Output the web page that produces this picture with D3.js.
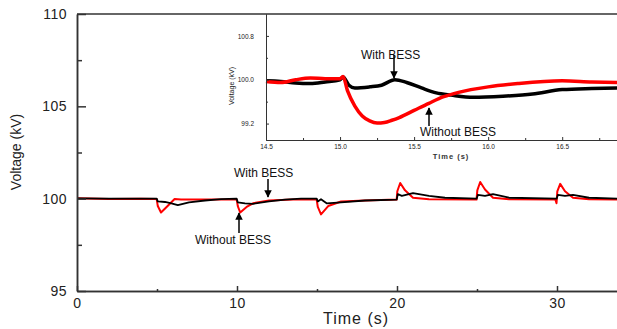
<!DOCTYPE html>
<html>
<head>
<meta charset="UTF-8">
<style>
  body { margin: 0; background: #fff; }
  svg { display: block; font-family: Arial, "Liberation Sans", sans-serif; }
  .axis path, .axis line { stroke: #333; }
  .axis text { fill: #222; }
</style>
</head>
<body>
<svg width="617" height="329"></svg>
<script src="https://cdn.jsdelivr.net/npm/d3@7"></script>
<script>
// main plot: voltage vs time (s)
const withoutT = [0, 2, 4, 4.98, 5.05, 5.25, 5.6, 6.1, 6.5, 8, 9.98, 10.05, 10.2, 10.6, 11.0, 12.0, 13.5, 14.98, 15.05, 15.25, 15.7, 16.5, 18, 19.98, 20.02, 20.2, 20.5, 21.0, 22, 24.97, 25.02, 25.2, 25.5, 26.0, 27, 29.9, 29.97, 30.02, 30.2, 30.5, 31.0, 32, 34];
const withoutV = [100.02, 99.98, 100.0, 99.98, 99.6, 99.25, 99.55, 99.98, 99.95, 99.95, 99.95, 99.6, 99.25, 99.55, 99.75, 99.9, 99.95, 99.95, 99.55, 99.15, 99.6, 99.85, 99.9, 99.95, 100.4, 100.85, 100.45, 100.05, 99.97, 99.95, 100.45, 100.9, 100.5, 100.05, 99.97, 99.95, 99.75, 100.4, 100.8, 100.4, 100.05, 99.97, 99.95];
const withT = [0, 2, 4.98, 5.05, 5.5, 5.9, 6.3, 7, 8, 9, 9.98, 10.05, 10.5, 11, 12, 13, 14, 14.98, 15.05, 15.25, 15.6, 16.5, 18, 19.98, 20.05, 20.3, 21.0, 22, 23, 24.98, 25.05, 25.5, 26, 27, 29.98, 30.05, 30.5, 31, 32, 34];
const withV = [100.02, 100.0, 100.0, 99.85, 99.82, 99.75, 99.65, 99.8, 99.9, 99.98, 100.0, 99.8, 99.75, 99.72, 99.85, 99.95, 100.0, 100.0, 99.85, 99.97, 99.75, 99.8, 99.9, 99.95, 100.25, 100.15, 100.3, 100.15, 100.05, 100.0, 100.2, 100.15, 100.25, 100.05, 100.0, 100.2, 100.15, 100.2, 100.05, 100.0];

// inset: zoom on the 15 s event
const insetWithoutT = [14.5, 14.6, 14.7, 14.8, 14.9, 15.0, 15.02, 15.05, 15.1, 15.15, 15.2, 15.25, 15.3, 15.35, 15.4, 15.5, 15.6, 15.7, 15.8, 16.0, 16.2, 16.5, 16.7, 16.9];
const insetWithoutV = [99.97, 99.95, 100.0, 100.03, 100.02, 100.02, 100.06, 99.8, 99.52, 99.34, 99.25, 99.21, 99.22, 99.26, 99.31, 99.44, 99.57, 99.69, 99.77, 99.87, 99.93, 99.98, 99.96, 99.95];
const insetWithT = [14.5, 14.6, 14.7, 14.8, 14.9, 15.0, 15.02, 15.06, 15.1, 15.2, 15.28, 15.37, 15.45, 15.55, 15.65, 15.75, 15.9, 16.1, 16.3, 16.5, 16.7, 16.9];
const insetWithV = [99.98, 99.97, 99.94, 99.93, 99.96, 100.0, 100.05, 99.9, 99.85, 99.87, 99.9, 100.0, 99.95, 99.85, 99.76, 99.72, 99.68, 99.7, 99.74, 99.82, 99.84, 99.85];

const mainYTicks = [95, 100, 105, 110];
const mainYMinor = [97.5, 102.5, 107.5];
const mainXTicks = [0, 10, 20, 30];
const mainXMinor = [5, 15, 25];
const insetYTicks = [99.2, 100.0, 100.8];
const insetYMinor = [99.6, 100.4];
const insetXTicks = [14.5, 15.0, 15.5, 16.0, 16.5];
const insetXMinor = [14.75, 15.25, 15.75, 16.25, 16.75];

const svg = d3.select("svg");

const x = d3.scaleLinear().domain([0, 33.75]).range([77, 617]);
const y = d3.scaleLinear().domain([95, 110]).range([291, 14]);

const line = (sx, sy) => d3.line().x(d => sx(d[0])).y(d => sy(d[1]));

// main series
svg.append("path")
  .datum(d3.zip(withoutT, withoutV))
  .attr("fill", "none").attr("stroke", "#f00").attr("stroke-width", 2)
  .attr("stroke-linejoin", "round")
  .attr("d", line(x, y));
svg.append("path")
  .datum(d3.zip(withT, withV))
  .attr("fill", "none").attr("stroke", "#000").attr("stroke-width", 1.8)
  .attr("stroke-linejoin", "round")
  .attr("d", line(x, y));

// main axes
const gy = svg.append("g").attr("class", "axis").attr("transform", "translate(77,0)")
  .call(d3.axisLeft(y).tickValues(mainYTicks).tickSizeInner(-9).tickSizeOuter(0).tickPadding(10));
svg.append("g").attr("class", "axis").attr("transform", "translate(77,0)")
  .call(d3.axisLeft(y).tickValues(mainYMinor).tickSizeInner(-5).tickSizeOuter(0).tickFormat(""));
const gx = svg.append("g").attr("class", "axis").attr("transform", "translate(0,291)")
  .call(d3.axisBottom(x).tickValues(mainXTicks).tickSizeInner(-5).tickSizeOuter(0).tickPadding(7));
svg.append("g").attr("class", "axis").attr("transform", "translate(0,291)")
  .call(d3.axisBottom(x).tickValues(mainXMinor).tickSizeInner(-2).tickSizeOuter(0).tickFormat(""));
svg.selectAll(".axis path").attr("stroke-width", 1.5);
svg.selectAll(".axis line").attr("stroke-width", 1.5);
gy.selectAll("text").style("font-size", "14px").style("letter-spacing", "0.5px");
gx.selectAll("text").style("font-size", "14px").style("letter-spacing", "0.5px");

// top frame line
svg.append("line").attr("x1", 77).attr("x2", 617).attr("y1", 14).attr("y2", 14)
  .attr("stroke", "#333").attr("stroke-width", 1.5);

svg.append("text")
  .attr("transform", "translate(21,152) rotate(-90)")
  .attr("text-anchor", "middle").style("font-size", "14px").attr("fill", "#222")
  .text("Voltage (kV)");
svg.append("text")
  .attr("x", 356).attr("y", 324)
  .attr("text-anchor", "middle").style("font-size", "16px").style("letter-spacing", "1px")
  .attr("fill", "#222").text("Time (s)");

// arrow marker
svg.append("defs").append("marker")
  .attr("id", "arr").attr("viewBox", "0 0 10 10").attr("refX", 9).attr("refY", 5)
  .attr("markerWidth", 5).attr("markerHeight", 5).attr("orient", "auto")
  .append("path").attr("d", "M0,0L10,5L0,10Z").attr("fill", "#000");

function annotate(tx, ty, label, ax1, ay1, ax2, ay2, size) {
  svg.append("text").attr("x", tx).attr("y", ty).style("font-size", size + "px")
    .attr("fill", "#111").text(label);
  svg.append("line").attr("x1", ax1).attr("y1", ay1).attr("x2", ax2).attr("y2", ay2)
    .attr("stroke", "#000").attr("stroke-width", 1.5).attr("marker-end", "url(#arr)");
}

annotate(234, 177, "With BESS", 268, 179, 268, 197, 12);
annotate(195, 244, "Without BESS", 239, 233, 239, 213, 12);

// inset
const ix = d3.scaleLinear().domain([14.5, 16.87]).range([266, 617]);
const iy = d3.scaleLinear().domain([98.9, 101.2]).range([140, 14]);

svg.append("rect").attr("x", 266).attr("y", 15).attr("width", 351).attr("height", 125).attr("fill", "#fff");

const smooth = (sx, sy) => d3.line().curve(d3.curveMonotoneX).x(d => sx(d[0])).y(d => sy(d[1]));

svg.append("path")
  .datum(d3.zip(insetWithT, insetWithV))
  .attr("fill", "none").attr("stroke", "#000").attr("stroke-width", 3.5)
  .attr("stroke-linejoin", "round")
  .attr("d", smooth(ix, iy));
svg.append("path")
  .datum(d3.zip(insetWithoutT, insetWithoutV))
  .attr("fill", "none").attr("stroke", "#f00").attr("stroke-width", 3.5)
  .attr("stroke-linejoin", "round")
  .attr("d", smooth(ix, iy));

const iyAx = svg.append("g").attr("class", "axis inset").attr("transform", "translate(266,0)")
  .call(d3.axisLeft(iy).tickValues(insetYTicks).tickSizeInner(-3).tickSizeOuter(0).tickPadding(12).tickFormat(d3.format(".1f")));
svg.append("g").attr("class", "axis inset").attr("transform", "translate(266,0)")
  .call(d3.axisLeft(iy).tickValues(insetYMinor).tickSizeInner(-2).tickSizeOuter(0).tickFormat(""));
const ixAx = svg.append("g").attr("class", "axis inset").attr("transform", "translate(0,140)")
  .call(d3.axisBottom(ix).tickValues(insetXTicks).tickSizeInner(-3).tickSizeOuter(0).tickPadding(4).tickFormat(d3.format(".1f")));
svg.append("g").attr("class", "axis inset").attr("transform", "translate(0,140)")
  .call(d3.axisBottom(ix).tickValues(insetXMinor).tickSizeInner(-2).tickSizeOuter(0).tickFormat(""));
svg.selectAll(".inset path").attr("stroke-width", 1);
svg.selectAll(".inset line").attr("stroke-width", 1);
iyAx.selectAll("text").style("font-size", "6.5px");
ixAx.selectAll("text").style("font-size", "6.5px");

svg.append("text")
  .attr("transform", "translate(234,86) rotate(-90)")
  .attr("text-anchor", "middle").style("font-size", "7px").attr("fill", "#222")
  .text("Voltage (kV)");
svg.append("text")
  .attr("x", 451).attr("y", 159)
  .attr("text-anchor", "middle").style("font-size", "7.5px").style("font-weight", "bold")
  .style("letter-spacing", "1px").attr("fill", "#333").text("Time (s)");

annotate(361, 59, "With BESS", 394, 55, 394, 78, 12);
annotate(420, 136, "Without BESS", 429, 126, 429, 108, 12);
</script>
</body>
</html>
